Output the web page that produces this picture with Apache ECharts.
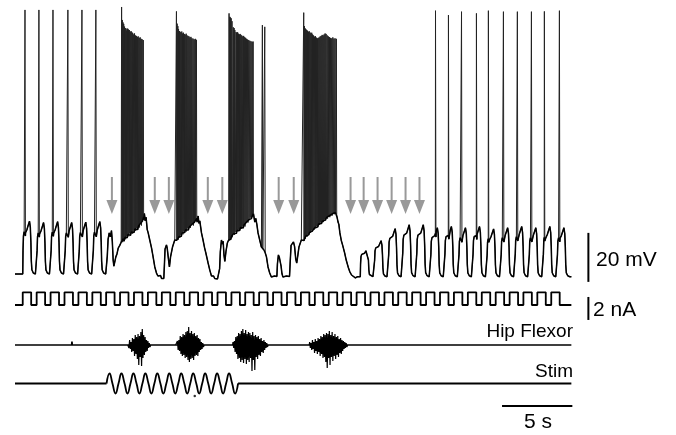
<!DOCTYPE html>
<html>
<head>
<meta charset="utf-8">
<script src="https://cdn.jsdelivr.net/npm/echarts@6/dist/echarts.min.js"></script>
<style>html,body{margin:0;padding:0;background:#fff}#c{width:676px;height:435px}</style>
</head>
<body>
<div id="c"></div>
<script>
// ---------- DATA (time in s, membrane potential in mV relative to rest) ----------
const T_END = 39.56;
// current-pulse onsets (s) and pulse settings
const pulseOnsets = [0.55,1.54,2.53,3.52,4.51,5.50,6.48,7.47,8.46,9.45,10.44,11.43,12.42,13.41,14.40,15.39,16.37,17.36,18.35,19.34,20.33,21.32,22.31,23.30,24.29,25.28,26.27,27.25,28.24,29.23,30.22,31.21,32.20,33.19,34.18,35.17,36.15,37.14,38.13];
const pulseWidth = 0.6;
const pulseAmp = 1.1; // nA
// normalized shape of the depolarization evoked by one pulse [dt, fraction]
const bumpShape = [[0,0],[0.02,0.45],[0.05,0.72],[0.1,0.8],[0.2,0.78],[0.3,0.84],[0.4,0.93],[0.48,1.0],[0.54,0.88],[0.58,0.6],[0.61,0.25],[0.65,0.08],[0.75,0.02],[0.9,0]];
// pulses delivered at rest: [onset, rest level, bump height, spike time|null, spike peak|null]
const restPulses = [
 [0.55,0.8,21.6,0.71,108.6],[1.55,0.8,21.0,1.70,108.6],[2.55,0.8,21.4,2.70,108.6],
 [3.55,0.8,21.0,3.76,108.6],[4.55,0.8,21.2,4.76,108.6],[5.55,0.8,21.4,5.75,108.6],
 [24.55,-0.3,11.4,null,null],[25.55,-0.3,14.7,null,null],[26.55,-0.3,19.6,null,null],
 [27.55,-0.3,21.2,null,null],[28.55,-0.3,21.2,null,null],
 [29.55,-0.3,20.0,29.90,108.3],[30.55,-0.3,20.5,30.82,106.5],[31.55,-0.3,20.0,31.75,107.9],
 [32.55,-0.3,20.5,32.81,107.2],[33.55,-0.3,19.5,33.66,108.3],[34.55,-0.3,20.0,34.73,107.9],
 [35.55,-0.3,20.5,35.72,107.9],[36.55,-0.3,20.0,36.72,107.9],[37.55,-0.3,20.5,37.64,108.0],
 [38.55,-0.3,20.0,38.71,108.3]
];
// membrane potential between bursts [t, mV]
const vmSegB = [[6.53,0.8],[6.56,8],[6.62,15],[6.7,17.6],[6.78,16],[6.86,18.5],[6.92,14],[6.98,6.5],[7.03,4],[7.1,4.5],[7.17,7.8],[7.25,9],[7.34,11.4],[7.45,12.5],[7.55,13.8]];
const vmSegC = [[9.15,23],[9.2,25.5],[9.26,22.5],[9.32,24],[9.4,19],[9.47,17.6],[9.55,15.5],[9.62,15.8],[9.71,11.4],[9.82,7.8],[9.94,3.7],[10.06,1.2],[10.16,0],[10.25,-0.8],[10.35,0.2],[10.42,-1],[10.51,-0.4],[10.58,-1],[10.62,4],[10.67,11],[10.77,12.7],[10.82,11.5],[10.87,12.2],[10.93,6],[10.98,3.7],[11.06,7.8],[11.2,11.8],[11.36,14.7],[11.46,15.3]];
const vmSegD = [[12.95,22],[13.02,24.5],[13.08,21.5],[13.14,22.5],[13.26,17.6],[13.37,14.7],[13.48,11.5],[13.57,9.4],[13.65,9.8],[13.73,5.3],[13.85,2.4],[13.97,0],[14.05,-0.8],[14.12,0],[14.2,-1],[14.3,-0.4],[14.4,-1.2],[14.5,-0.6],[14.55,3],[14.6,10],[14.68,14.7],[14.74,13],[14.8,14.2],[14.86,8.5],[14.92,6],[15.0,10],[15.1,13.5],[15.19,14.7]];
const vmSegE = [[16.98,24.5],[17.05,22],[17.12,23.5],[17.2,21],[17.28,17.6],[17.4,14.7],[17.52,11.8],[17.57,12],[17.59,102.4],[17.62,11],[17.7,10.6],[17.74,11],[17.76,101.7],[17.79,9.5],[17.88,7.8],[17.99,3.7],[18.11,1.2],[18.23,-0.4],[18.35,-0.8],[18.45,0],[18.55,-0.8],[18.62,-0.2],[18.66,5],[18.73,8.6],[18.8,7.5],[18.86,8.2],[18.92,4],[18.98,1],[19.05,-0.4],[19.15,-0.8],[19.3,0],[19.42,-0.8],[19.52,-0.2],[19.57,6],[19.63,12.5],[19.72,12],[19.8,13.9],[19.88,12],[19.96,7],[20.03,5.3],[20.1,8],[20.19,11.8],[20.36,14.7],[20.5,15.5]];
const vmSegF = [[22.9,24],[22.97,22],[23.03,21],[23.1,17.6],[23.2,14.5],[23.3,12.5],[23.44,9.4],[23.55,6.5],[23.62,6.8],[23.7,3.5],[23.8,1.8],[23.93,0.4],[24.05,-0.4],[24.2,-0.8],[24.35,-0.3]];
// burst spikes [time, peak, following trough] (mV)
const burst1 = [[7.58,109.8,14.5],[7.63,104.5,13.8],[7.68,103.5,15.2],[7.73,102.9,14.2],[7.79,101.8,15.8],[7.84,101.2,15],[7.90,101,16.4],[7.95,100.2,15.6],[8.01,101,17],[8.07,100.6,16.2],[8.13,100.4,17.4],[8.19,99.6,16.6],[8.25,100,18],[8.31,99.5,17.2],[8.37,99.2,18.6],[8.44,98.6,17.8],[8.50,99,19.2],[8.56,98.2,18.4],[8.63,98,19.6],[8.70,97.6,19],[8.76,97.8,20.4],[8.83,97.2,19.8],[8.90,97.4,21.4],[8.97,96.8,20.6],[9.04,96.6,22.4],[9.12,96.3,24]];
const burst2 = [[11.48,108,14.6],[11.53,103,15.4],[11.58,102,14.8],[11.63,100.8,16],[11.69,100,15.6],[11.74,99.7,16.8],[11.80,99.5,16.2],[11.86,99.8,17.6],[11.92,99,17],[11.98,99.3,18.2],[12.04,98.8,17.8],[12.10,98.5,18.8],[12.17,98.9,18.2],[12.23,98.2,19.4],[12.30,98,18.8],[12.37,97.8,20],[12.44,97.4,19.6],[12.51,97.6,20.8],[12.58,97,21.2],[12.66,96.9,20.6],[12.74,96.6,22],[12.82,96.8,22.8],[12.90,96.4,23.5]];
const burst3 = [[15.22,107.2,14.5],[15.27,105.8,15.4],[15.32,105.5,15],[15.37,105.2,16.2],[15.43,104,15.8],[15.52,101.5,17.2],[15.58,101.2,16.8],[15.63,100.4,17.8],[15.72,99.6,17.4],[15.77,99.2,18.6],[15.83,99.5,18.2],[15.89,98.9,19],[15.95,98.6,18.6],[16.01,98.8,19.8],[16.07,98.4,19.2],[16.13,98.1,20.2],[16.20,97.8,19.6],[16.26,98,20.8],[16.33,97.5,20.2],[16.40,97.2,21.6],[16.47,96.8,22.2],[16.54,96.5,21.8],[16.62,96.3,23],[16.70,96,23.8],[16.78,95.8,23.4],[16.86,95.6,24.6],[16.93,95.7,25.5]];
const burst4 = [[20.53,107.5,14.5],[20.58,102,15.5],[20.63,101.1,15.2],[20.68,100.8,16.4],[20.74,100.4,16],[20.80,100.1,17.2],[20.86,99.7,16.8],[20.92,99.9,17.8],[20.98,99.4,17.6],[21.04,99.1,18.6],[21.10,99.3,18.2],[21.16,98.6,19],[21.23,98.2,18.8],[21.30,97.7,19.8],[21.36,97.9,19.4],[21.43,97.3,20.4],[21.50,97,20],[21.56,97.2,21.2],[21.63,97.4,20.8],[21.70,97.8,21.8],[21.77,98,21.4],[21.84,98.4,22.4],[21.91,98.2,22],[21.98,98.6,23],[22.05,99,22.8],[22.12,98.8,23.8],[22.20,98.2,23.4],[22.28,97.8,24.4],[22.36,97.5,24],[22.44,97.2,25],[22.52,97,24.6],[22.60,97.4,25.6],[22.68,96.9,25.2],[22.76,97,25.8],[22.85,96.8,25]];
// arrow (failed-spike) times (s)
const arrowTimes = [6.89,9.94,10.94,13.71,14.74,18.75,19.82,23.86,24.79,25.78,26.78,27.77,28.76];
const arrowLevel = 32.9; // mV, centre of the arrow glyph
// Hip flexor EMG: burst start times, sample step and [up, down] envelope per sample (a.u.)
const emgStarts = [8.05, 11.45, 15.5, 20.95];
const emgStep = 0.1;
const emgBurst1 = [[0.2,-0.3],[0.5,-0.4],[0.3,-0.7],[0.7,-0.6],[0.6,-1.1],[1.0,-0.9],[0.8,-1.4],[1.1,-2.0],[0.9,-1.2],[1.3,-2.1],[1.6,-1.3],[1.0,-1.0],[0.8,-0.7],[0.5,-0.6],[0.4,-0.3],[0.2,-0.2]];
const emgBurst2 = [[0.2,-0.2],[0.4,-0.5],[0.5,-0.6],[0.9,-0.9],[0.8,-1.1],[1.1,-1.0],[1.0,-1.3],[1.3,-1.2],[1.4,-1.5],[1.8,-1.7],[1.2,-1.4],[1.4,-1.3],[1.1,-1.5],[1.2,-1.1],[0.9,-1.0],[1.0,-1.1],[0.7,-0.7],[0.6,-0.5],[0.3,-0.4],[0.2,-0.2]];
const emgBurst3 = [[0.3,-0.3],[0.4,-0.7],[0.8,-0.9],[0.9,-1.4],[1.2,-1.3],[1.1,-1.7],[1.4,-1.5],[1.6,-1.8],[1.2,-1.4],[1.5,-1.9],[1.1,-1.5],[1.3,-1.7],[1.2,-1.3],[1.0,-2.6],[1.3,-1.5],[0.9,-2.5],[1.0,-1.2],[0.8,-1.4],[0.9,-1.0],[0.6,-1.1],[0.7,-0.7],[0.4,-0.8],[0.5,-0.5],[0.3,-0.3],[0.2,-0.2]];
const emgBurst4 = [[0.3,-0.3],[0.2,-0.5],[0.5,-0.4],[0.3,-0.8],[0.6,-0.6],[0.4,-0.9],[0.7,-0.7],[0.6,-1.1],[0.9,-0.9],[0.8,-1.3],[1.1,-1.2],[1.0,-1.7],[1.2,-2.3],[1.1,-1.3],[1.4,-2.0],[1.0,-1.2],[1.3,-1.6],[0.9,-1.1],[1.1,-1.4],[0.8,-1.0],[0.9,-1.2],[0.6,-0.8],[0.7,-0.9],[0.5,-0.6],[0.4,-0.4],[0.3,-0.3],[0.2,-0.2]];
const emgBlips = [[1.3,0.2],[2.9,-0.15],[4.05,0.35],[5.6,-0.15],[24.5,0.2],[26.0,-0.2],[27.3,0.15],[29.1,0.2],[31.0,-0.15],[32.7,0.2],[34.2,0.15],[36.0,-0.2],[37.5,0.15]];
// sinusoidal stimulus: extremes and zero crossings [t, a.u.]
const stimWave = [[6.51,0],[6.72,1],[6.93,0],[7.15,-1],[7.36,0],[7.57,1],[7.79,0],[8.0,-1],[8.21,0],[8.42,1],[8.64,0],[8.85,-1],[9.06,0],[9.27,1],[9.49,0],[9.7,-1],[9.91,0],[10.12,1],[10.34,0],[10.55,-1],[10.76,0],[10.97,1],[11.19,0],[11.4,-1],[11.61,0],[11.82,1],[12.04,0],[12.25,-1],[12.46,0],[12.67,1],[12.89,0],[13.1,-1],[13.31,0],[13.52,1],[13.74,0],[13.95,-1],[14.16,0],[14.37,1],[14.59,0],[14.8,-1],[15.01,0],[15.22,1],[15.44,0],[15.65,-1],[15.86,0]];
const stimDot = [[12.78,-1.25]];
// scale bars
const barX = 40.77;             // s
const mvBar = [-2.4, 17.6];     // 20 mV
const naBar = [-1.3, 0.7];      // 2 nA
const timeBar = [34.63, 39.63]; // 5 s
const timeBarLevel = -2.25;

// ---------- build traces ----------
function shapeAt(dt){
  for(let i=1;i<bumpShape.length;i++){
    const [t0,v0]=bumpShape[i-1],[t1,v1]=bumpShape[i];
    if(dt<=t1){return v0+(v1-v0)*(dt-t0)/(t1-t0);}
  }
  return 0;
}
const vm = [[0,0.8]];
restPulses.forEach(([on,rest,h,ts,pk])=>{
  let pts = bumpShape.map(([dt,s])=>[on+dt,rest+h*s]);
  if(ts!==null){
    const b = rest+h*shapeAt(ts-on);
    pts = pts.filter(p=>Math.abs(p[0]-ts)>0.035);
    pts.push([ts-0.012,b],[ts,pk],[ts+0.03,b-1.5]);
  }
  vm.push(...pts);
});
[vmSegB,vmSegC,vmSegD,vmSegE,vmSegF].forEach(s=>vm.push(...s));
[burst1,burst2,burst3,burst4].forEach(b=>b.forEach(([t,pk,tr])=>{vm.push([t,pk],[t+0.025,tr]);}));
vm.push([T_END,-0.3]);
vm.sort((a,b)=>a[0]-b[0]);
const vmSub = vm.filter(p=>p[1]<60);   // sub-threshold part drawn slightly heavier

const cur = [[0,0]];
pulseOnsets.forEach(on=>{cur.push([on,0],[on,pulseAmp],[on+pulseWidth,pulseAmp],[on+pulseWidth,0]);});
cur.push([T_END,0]);

const emgBase = [[0,0]];
emgBlips.forEach(([t,v])=>emgBase.push([t-0.02,0],[t,v],[t+0.02,0]));
emgBase.push([T_END,0]);
emgBase.sort((a,b)=>a[0]-b[0]);
const emgBursts = [emgBurst1,emgBurst2,emgBurst3,emgBurst4].map((b,k)=>{
  const t0 = emgStarts[k], out=[[t0-0.03,0]];
  b.forEach(([u,d],i)=>{out.push([t0+i*emgStep,u],[t0+i*emgStep+emgStep/2,d]);});
  out.push([t0+b.length*emgStep,0]);
  return out;
});

// ---------- chart ----------
const L = 15, XMAX = 47, PXS = 14.08;
const W = XMAX*PXS;
const FONT = '"Liberation Sans", Arial, Helvetica, sans-serif';
const grids = [
  {left:L, width:W, top:6.5, height:284.2},   // Vm
  {left:L, width:W, top:282, height:40.25},   // current
  {left:L, width:W, top:320, height:55},      // EMG
  {left:L, width:W, top:363.5, height:50}     // stim
];
const yr = [[-6,110],[-1.5,2],[-3,2.5],[-3,2]];
const chart = echarts.init(document.getElementById('c'), null, {renderer:'canvas'});
const line = (gi, data, w, extra) => Object.assign({
  type:'line', xAxisIndex:gi, yAxisIndex:gi, data, showSymbol:false, symbol:'none',
  lineStyle:{color:'#000', width:w, join:'bevel'}, animation:false, silent:true, clip:false
}, extra||{});
const arrowPath = 'path://M4.5,0 L6.5,0 L6.5,23 L11,23 L5.5,37 L0,23 L4.5,23 Z';
chart.setOption({
  backgroundColor:'#fff',
  animation:false,
  grid: grids,
  xAxis: grids.map((g,i)=>({type:'value', gridIndex:i, min:0, max:XMAX, show:false})),
  yAxis: grids.map((g,i)=>({type:'value', gridIndex:i, min:yr[i][0], max:yr[i][1], show:false})),
  series: [
    line(0, vm, 1, {lineStyle:{color:'#222', width:1, join:'bevel'}}),
    line(0, vmSub, 1.5),
    {type:'scatter', xAxisIndex:0, yAxisIndex:0, data:arrowTimes.map(t=>[t,arrowLevel]),
     symbol:arrowPath, symbolSize:[11,37], itemStyle:{color:'#808080'}, animation:false, silent:true, clip:false},
    line(1, cur, 1.8),
    line(2, emgBase, 1.7),
    ...emgBursts.map(b=>line(2, b, 1.2)),
    line(3, [[0,0],[stimWave[0][0],0]], 1.8),
    line(3, [[stimWave[stimWave.length-1][0],0],[T_END,0]], 1.8),
    line(3, stimWave, 1.8, {smooth:0.5}),
    {type:'scatter', xAxisIndex:3, yAxisIndex:3, data:stimDot, symbolSize:2.5, itemStyle:{color:'#000'}, animation:false, silent:true},
    line(0, [[barX,mvBar[0]],[barX,mvBar[1]]], 2),
    line(1, [[barX,naBar[0]],[barX,naBar[1]]], 2),
    line(3, [[timeBar[0],timeBarLevel],[timeBar[1],timeBarLevel]], 2)
  ],
  graphic: [
    {type:'text', x:596, y:260, style:{text:'20 mV', font:'21px '+FONT, fill:'#000', align:'left', verticalAlign:'middle', textAlign:'left', textVerticalAlign:'middle'}},
    {type:'text', x:593, y:310, style:{text:'2 nA', font:'21px '+FONT, fill:'#000', align:'left', verticalAlign:'middle', textAlign:'left', textVerticalAlign:'middle'}},
    {type:'text', x:573, y:332, style:{text:'Hip Flexor', font:'19px '+FONT, fill:'#000', align:'right', verticalAlign:'middle', textAlign:'right', textVerticalAlign:'middle'}},
    {type:'text', x:573, y:371.5, style:{text:'Stim', font:'19px '+FONT, fill:'#000', align:'right', verticalAlign:'middle', textAlign:'right', textVerticalAlign:'middle'}},
    {type:'text', x:538, y:422.5, style:{text:'5 s', font:'21px '+FONT, fill:'#000', align:'center', verticalAlign:'middle', textAlign:'center', textVerticalAlign:'middle'}}
  ]
});
</script>
</body>
</html>
